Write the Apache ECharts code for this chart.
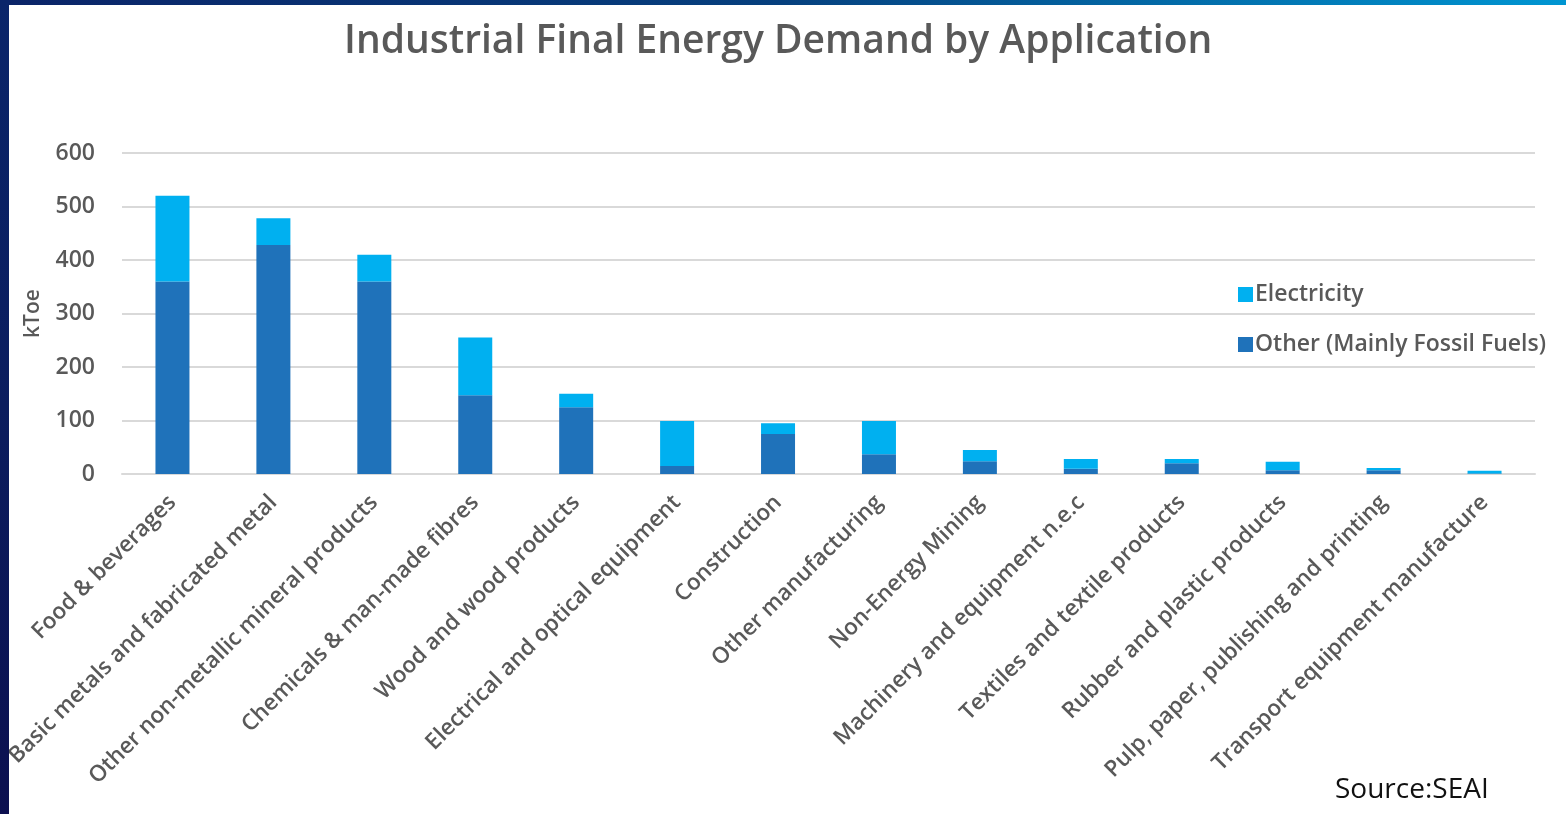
<!DOCTYPE html>
<html><head><meta charset="utf-8">
<script src="https://cdn.jsdelivr.net/npm/echarts@6/dist/echarts.min.js"></script>
<style>
html,body{margin:0;padding:0;width:1566px;height:814px;overflow:hidden;}
#frame{position:absolute;left:0;top:0;width:1566px;height:814px;
 background:linear-gradient(90deg,#0b2468 0%,#06407e 50%,#0096d2 100%);}
#leftbar{position:absolute;left:0;top:0;width:9px;height:814px;background:linear-gradient(180deg,#0a256a 0%,#0b1d5e 50%,#0c1050 100%);}
#chart{position:absolute;left:9px;top:5px;width:1557px;height:809px;background:#fff;}
</style></head>
<body>
<div id="frame"></div><div id="leftbar"></div>
<div id="chart"></div>
<script>
const categories = ["Food & beverages","Basic metals and fabricated metal","Other non-metallic mineral products","Chemicals & man-made fibres","Wood and wood products","Electrical and optical equipment","Construction","Other manufacturing","Non-Energy Mining","Machinery and equipment n.e.c","Textiles and textile products","Rubber and plastic products","Pulp, paper, publishing and printing","Transport equipment manufacture"];
const otherFossil = [360, 428, 360, 147, 125, 15, 75, 37, 24, 10, 20, 7, 7, 1];
const electricity = [160, 50, 50, 108, 25, 84, 20, 62, 21, 18, 8, 16, 4, 5];
const yTicks = [0, 100, 200, 300, 400, 500, 600];

const chart = echarts.init(document.getElementById('chart'));
const grey = '#595959';
const ff = 'Open Sans';
chart.setOption({
  animation:false,
  title:{text:'Industrial Final Energy Demand by Application',left:330,top:12,
    textStyle:{fontFamily:ff,fontSize:39,fontWeight:600,color:grey}},
  legend:{orient:'vertical',left:1224,top:273,itemGap:27,itemWidth:15,itemHeight:15,icon:'rect',
    textStyle:{fontFamily:ff,fontSize:23,fontWeight:600,color:grey,padding:[0,0,0,-3]},
    data:['Electricity','Other (Mainly Fossil Fuels)']},
  grid:{left:113,right:31,top:148,bottom:340,containLabel:false,outerBoundsMode:'none'},
  xAxis:{type:'category',data:categories,
    axisLine:{lineStyle:{color:'#d9d9d9',width:2}},axisTick:{show:false},
    axisLabel:{rotate:45,interval:0,fontFamily:ff,fontSize:22.5,fontWeight:600,color:grey,margin:25}},
  yAxis:{type:'value',min:yTicks[0],max:yTicks[yTicks.length-1],interval:100,
    name:'kToe',nameLocation:'middle',nameGap:78,nameRotate:90,
    nameTextStyle:{fontFamily:ff,fontSize:21,fontWeight:600,color:grey},
    axisLine:{show:false},axisTick:{show:false},
    axisLabel:{fontFamily:ff,fontSize:23,fontWeight:600,color:grey,margin:27}},
  series:[
    {name:'Other (Mainly Fossil Fuels)',type:'bar',stack:'t',data:otherFossil,barWidth:34,itemStyle:{color:'#1f72ba'}},
    {name:'Electricity',type:'bar',stack:'t',data:electricity,barWidth:34,itemStyle:{color:'#00b0f0'}}
  ],
  graphic:[{type:'text',left:1326,top:771,style:{text:'Source:SEAI',fontFamily:ff,fontSize:28,fill:'#111'}}]
});
chart.setOption({yAxis:{splitLine:{lineStyle:{color:'#d9d9d9',width:2}}}});
</script>
</body></html>
